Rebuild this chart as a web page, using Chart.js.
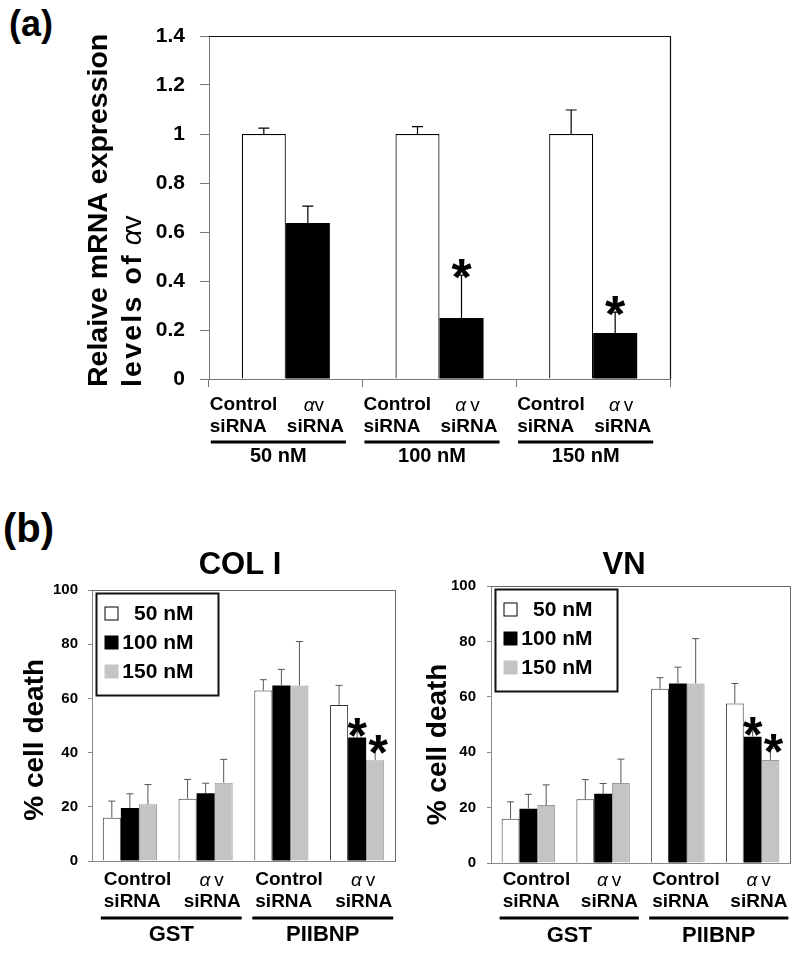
<!DOCTYPE html>
<html>
<head>
<meta charset="utf-8">
<script src="https://cdn.jsdelivr.net/npm/chart.js@4.4.1/dist/chart.umd.min.js"></script>
<style>
html,body{margin:0;padding:0;background:#fff;width:800px;height:953px;overflow:hidden;}
.wrap{position:absolute;}
.panel{position:absolute;font-family:"Liberation Sans",Arial,sans-serif;font-weight:bold;line-height:1;color:#000;}
canvas{display:block;}
</style>
</head>
<body>
<div class="panel" style="left:9px;top:6px;font-size:36px;">(a)</div>
<div class="panel" style="left:3px;top:508px;font-size:40px;">(b)</div>
<div class="wrap" style="left:0;top:0;"><canvas id="cA" width="800" height="480"></canvas></div>
<div class="wrap" style="left:0;top:480px;"><canvas id="cB1" width="480" height="473"></canvas></div>
<div class="wrap" style="left:400px;top:480px;"><canvas id="cB2" width="448" height="473"></canvas></div>
<script>
// ---------------- data ----------------
// (a) relative mRNA expression of alpha v
const concLabels = ['50 nM', '100 nM', '150 nM'];
const siRNALabels = [['Control', 'siRNA'], ['αv', 'siRNA']];
const yTitleA = ['Relaive mRNA expression', 'levels of αv'];
const aControl = [1.0, 1.0, 1.0];
const aControlErr = [0.024, 0.03, 0.098];
const aAlphaV = [0.637, 0.249, 0.188];
const aAlphaVErr = [0.069, 0.175, 0.085];
const aAlphaVSig = [false, true, true];

// (b) % cell death
const bTitles = ['COL I', 'VN'];
const bTreatments = ['GST', 'PIIBNP'];
const bCategories = ['Control siRNA', 'αv siRNA', 'Control siRNA', 'αv siRNA'];
const bConcLabels = ['50 nM', '100 nM', '150 nM'];
const yTitleB = '% cell death';
const death50 = [16.0, 23.0, 62.9, 57.6];
const death50Err = [6.1, 7.1, 4.0, 7.2];
const death100 = [19.6, 25.0, 64.8, 45.6];
const death100Err = [5.2, 3.7, 5.9, 2.1];
const death150 = [20.9, 28.9, 64.8, 37.2];
const death150Err = [7.3, 8.6, 16.2, 4.2];
const sig50 = [false, false, false, false];
const sig100 = [false, false, false, true];
const sig150 = [false, false, false, true];

// ---------------- helpers ----------------
const FF = '"Liberation Sans", Arial, Helvetica, sans-serif';
Chart.defaults.font.family = FF;
Chart.defaults.color = '#000';

function barBox(bar) {
  const p = bar.getProps(['x', 'width'], true);
  return {x: p.x, left: p.x - p.width / 2, right: p.x + p.width / 2};
}

function errorBarPlugin(errs, sigs, o) {
  return {
    id: 'errbars',
    afterDatasetsDraw(chart) {
      const ctx = chart.ctx, y = chart.scales.y;
      ctx.save();
      chart.data.datasets.forEach((ds, di) => {
        const meta = chart.getDatasetMeta(di);
        meta.data.forEach((bar, i) => {
          const v = ds.data[i], e = errs[di][i];
          const x = bar.x;
          const y0 = y.getPixelForValue(v), y1 = y.getPixelForValue(v + e);
          ctx.strokeStyle = o.color; ctx.lineWidth = o.width;
          ctx.beginPath();
          ctx.moveTo(x, y0); ctx.lineTo(x, y1);
          ctx.moveTo(x - o.cap / 2, y1); ctx.lineTo(x + o.cap / 2, y1);
          ctx.stroke();
          if (sigs[di][i]) {
            ctx.fillStyle = '#000';
            ctx.font = 'bold ' + o.starSize + 'px ' + FF;
            ctx.textAlign = 'center'; ctx.textBaseline = 'alphabetic';
            const cy = y1 - o.starGap;
            ctx.fillText('*', x + (o.starDx ? o.starDx[di] : 0), cy + o.starSize * 0.6);
          }
        });
      });
      ctx.restore();
    }
  };
}

function framePlugin(color, lw) {
  return {
    id: 'frame',
    afterDraw(chart) {
      const {ctx, chartArea: {left, right, top, bottom}} = chart;
      ctx.save();
      ctx.strokeStyle = color; ctx.lineWidth = lw;
      ctx.beginPath();
      ctx.moveTo(left, top + 0.5); ctx.lineTo(right + 0.5, top + 0.5); ctx.lineTo(right + 0.5, bottom);
      ctx.stroke();
      ctx.restore();
    }
  };
}

function drawAlphaV(ctx, text, cx, cy, size, gap) {
  const a = text.charAt(0), rest = text.slice(1);
  ctx.font = 'italic ' + size + 'px ' + FF;
  const wa = ctx.measureText(a).width;
  ctx.font = size + 'px ' + FF;
  const wr = ctx.measureText(rest).width;
  let x = cx - (wa + gap + wr) / 2;
  ctx.textAlign = 'left';
  ctx.font = 'italic ' + size + 'px ' + FF;
  ctx.fillText(a, x, cy);
  ctx.font = size + 'px ' + FF;
  ctx.fillText(rest, x + wa + gap, cy);
}

function drawLine(ctx, x1, x2, y, w) {
  ctx.fillRect(x1, y - w / 2, x2 - x1, w);
}

// vertical (rotated) text made of parts, starting at startY going up
function drawVParts(ctx, parts, cx, startY, centered) {
  ctx.save();
  let total = 0;
  parts.forEach(p => {
    ctx.font = p.font;
    const ls = p.ls || 0;
    p.chars = [];
    let w = 0;
    if (ls) {
      for (const ch of p.text) { p.chars.push({ch, x: w}); w += ctx.measureText(ch).width + ls; }
      w -= ls;
    } else {
      w = ctx.measureText(p.text).width;
    }
    p.w = w + (p.after || 0); total += p.w;
  });
  const sy = centered ? startY + total / 2 : startY;
  ctx.translate(cx, sy);
  ctx.rotate(-Math.PI / 2);
  ctx.textBaseline = 'middle'; ctx.textAlign = 'left'; ctx.fillStyle = '#000';
  let x = 0;
  parts.forEach(p => {
    ctx.font = p.font;
    if (p.ls) p.chars.forEach(c => ctx.fillText(c.ch, x + c.x, 0));
    else ctx.fillText(p.text, x, 0);
    x += p.w;
  });
  ctx.restore();
}

// ---------------- chart (a) ----------------
const labelsPluginA = {
  id: 'labelsA',
  afterDraw(chart) {
    const ctx = chart.ctx, bottom = chart.chartArea.bottom;
    const m0 = chart.getDatasetMeta(0), m1 = chart.getDatasetMeta(1);
    ctx.save();
    ctx.fillStyle = '#000'; ctx.textBaseline = 'middle';
    chart.data.labels.forEach((lab, i) => {
      const b0 = barBox(m0.data[i]), b1 = barBox(m1.data[i]);
      const left = b0.left, right = b1.right;
      ctx.font = 'bold 19px ' + FF; ctx.textAlign = 'left';
      ctx.fillText(siRNALabels[0][0], left - 32, bottom + 26);
      ctx.fillText(siRNALabels[0][1], left - 32, bottom + 48);
      ctx.textAlign = 'right';
      ctx.fillText(siRNALabels[1][1], right + 14, bottom + 48);
      drawAlphaV(ctx, siRNALabels[1][0], b1.x + 6, bottom + 27, 19, i === 0 ? 0 : 4);
      drawLine(ctx, left - 31, right + 16, bottom + 63, 3);
      ctx.font = 'bold 20px ' + FF; ctx.textAlign = 'center';
      ctx.fillText(lab, (left - 31 + right + 16) / 2, bottom + 77);
    });
    // y title
    const [l1, l2] = yTitleA;
    const k = l2.indexOf('α');
    drawVParts(ctx, [{text: l1, font: 'bold 28.5px ' + FF}], 99, 387, false);
    drawVParts(ctx, [{text: l2.slice(0, k).trim(), font: 'bold 28.5px ' + FF, ls: 2.2, after: 10},
                     {text: l2.slice(k, k + 1), font: 'italic 28px ' + FF},
                     {text: l2.slice(k + 1), font: '28px ' + FF}], 133, 387, false);
    ctx.restore();
  }
};

new Chart(document.getElementById('cA'), {
  type: 'bar',
  data: {
    labels: concLabels,
    datasets: [
      {label: 'Control siRNA', data: aControl, backgroundColor: '#ffffff', borderColor: '#000', borderWidth: 1.2,
       borderSkipped: 'bottom', barPercentage: 1, categoryPercentage: 0.573},
      {label: 'αv siRNA', data: aAlphaV, backgroundColor: '#000000', borderColor: '#000', borderWidth: 0,
       barPercentage: 1, categoryPercentage: 0.573}
    ]
  },
  options: {
    responsive: false, animation: false,
    layout: {padding: {top: 36, right: 130, left: 0, bottom: 0}},
    plugins: {legend: {display: false}, tooltip: {enabled: false}},
    scales: {
      x: {
        ticks: {display: false},
        grid: {offset: true, drawOnChartArea: false, drawTicks: true, tickLength: 8, color: '#777', lineWidth: 1},
        border: {color: '#777', width: 1},
        afterFit(s) { s.height = 101; }
      },
      y: {
        min: 0, max: 1.4,
        ticks: {stepSize: 0.2, padding: 15, color: '#000', font: {size: 21, weight: 'bold'},
                callback: v => String(Number(v.toFixed(1)))},
        grid: {drawOnChartArea: false, tickLength: 9, color: '#777'},
        border: {color: '#777', width: 1},
        afterFit(s) { s.width = 209; }
      }
    }
  },
  plugins: [framePlugin('#111', 1.2), labelsPluginA,
    errorBarPlugin([aControlErr, aAlphaVErr], [[false, false, false], aAlphaVSig],
      {color: '#000', width: 1.2, cap: 11, starSize: 52, starGap: 11})]
});

// ---------------- charts (b) ----------------
function makeB(canvasId, title, geo) {
  const labelsPluginB = {
    id: 'labelsB',
    afterDraw(chart) {
      const ctx = chart.ctx, ca = chart.chartArea, bottom = ca.bottom;
      const mF = chart.getDatasetMeta(0), mM = chart.getDatasetMeta(1), mL = chart.getDatasetMeta(2);
      ctx.save();
      ctx.fillStyle = '#000'; ctx.textBaseline = 'middle';
      const ext = [];
      chart.data.labels.forEach((lab, i) => {
        const bF = barBox(mF.data[i]), bM = barBox(mM.data[i]), bL = barBox(mL.data[i]);
        ext.push({left: bF.left, right: bL.right});
        const lines = siRNALabels[i % 2];
        ctx.font = 'bold 19px ' + FF;
        if (i % 2 === 0) {
          ctx.textAlign = 'left';
          ctx.fillText(lines[0], bF.left + 1, bottom + geo.r1);
          ctx.fillText(lines[1], bF.left + 1, bottom + geo.r2);
        } else {
          ctx.textAlign = 'right';
          ctx.fillText(lines[1], bL.right + 8, bottom + geo.r2);
          drawAlphaV(ctx, lines[0], bM.x + 6, bottom + geo.r1 + 1, 19, 4);
        }
      });
      bTreatments.forEach((t, g) => {
        const x1 = ext[2 * g].left - 2, x2 = ext[2 * g + 1].right + 9;
        drawLine(ctx, x1, x2, bottom + geo.ul, 3);
        ctx.font = 'bold 22px ' + FF; ctx.textAlign = 'center';
        ctx.fillText(t, (x1 + x2) / 2, bottom + geo.gl);
      });
      // legend box
      const bx = ca.left + 4.5, by = ca.top + 3.5, bw = 122, bh = 102;
      ctx.lineWidth = 2; ctx.strokeStyle = '#111';
      ctx.strokeRect(bx, by, bw, bh);
      chart.data.datasets.forEach((ds, i) => {
        const cy = by + 20 + i * 29;
        ctx.fillStyle = ds.backgroundColor;
        ctx.fillRect(bx + 8, cy - 7, 14, 14);
        if (i === 0) { ctx.lineWidth = 1; ctx.strokeStyle = '#000'; ctx.strokeRect(bx + 8.5, cy - 6.5, 13, 13); }
        ctx.fillStyle = '#000';
        ctx.font = 'bold 21px ' + FF; ctx.textAlign = 'right'; ctx.textBaseline = 'middle';
        ctx.fillText(ds.label, bx + 97, cy + 1);
      });
      // y title
      drawVParts(ctx, [{text: yTitleB, font: 'bold 28px ' + FF}], ca.left - geo.ytx, ca.top + geo.ytc * (ca.bottom - ca.top), true);
      ctx.restore();
    }
  };

  return new Chart(document.getElementById(canvasId), {
    type: 'bar',
    data: {
      labels: bCategories,
      datasets: [
        {label: bConcLabels[0], data: death50, backgroundColor: '#ffffff', borderColor: '#333', borderWidth: 1,
         borderSkipped: 'bottom', barPercentage: 1, categoryPercentage: 0.715},
        {label: bConcLabels[1], data: death100, backgroundColor: '#000000', borderColor: '#000', borderWidth: 0,
         barPercentage: 1, categoryPercentage: 0.715},
        {label: bConcLabels[2], data: death150, backgroundColor: '#c4c4c4', borderColor: '#9a9a9a', borderWidth: 1,
         borderSkipped: 'bottom', barPercentage: 1, categoryPercentage: 0.715}
      ]
    },
    options: {
      responsive: false, animation: false,
      layout: {padding: 0},
      plugins: {
        legend: {display: false}, tooltip: {enabled: false},
        title: {display: true, text: title, color: '#000', font: {size: 31, weight: 'bold'},
                padding: {top: 67, bottom: geo.tpb}}
      },
      scales: {
        x: {
          ticks: {display: false},
          grid: {display: false},
          border: {color: '#888', width: 1},
          afterFit(s) { s.height = geo.xh; }
        },
        y: {
          min: 0, max: 100,
          ticks: {stepSize: 20, padding: geo.tp, color: '#000', font: {size: 15, weight: 'bold'}},
          grid: {drawOnChartArea: false, tickLength: 4, color: '#888'},
          border: {color: '#888', width: 1},
          afterFit(s) { s.width = geo.yw; }
        },
        yPad: {
          type: 'linear', position: 'right', display: true,
          ticks: {display: false}, grid: {display: false}, border: {display: false},
          afterFit(s) { s.width = geo.rw; }
        }
      }
    },
    plugins: [framePlugin('#666', 1), labelsPluginB,
      errorBarPlugin([death50Err, death100Err, death150Err], [sig50, sig100, sig150],
        {color: '#555', width: 1, cap: 7, starSize: 50, starGap: 9, starDx: [0, 0, 3]})]
  });
}

makeB('cB1', bTitles[0], {yw: 92, rw: 85, xh: 92, tpb: 5.8, tp: 10, r1: 19, r2: 41, ul: 57, gl: 74, ytx: 57, ytc: 0.553});
makeB('cB2', bTitles[1], {yw: 91, rw: 58, xh: 90, tpb: 1.8, tp: 11, r1: 17, r2: 39, ul: 55, gl: 73, ytx: 53, ytc: 0.572});
</script>
</body>
</html>
